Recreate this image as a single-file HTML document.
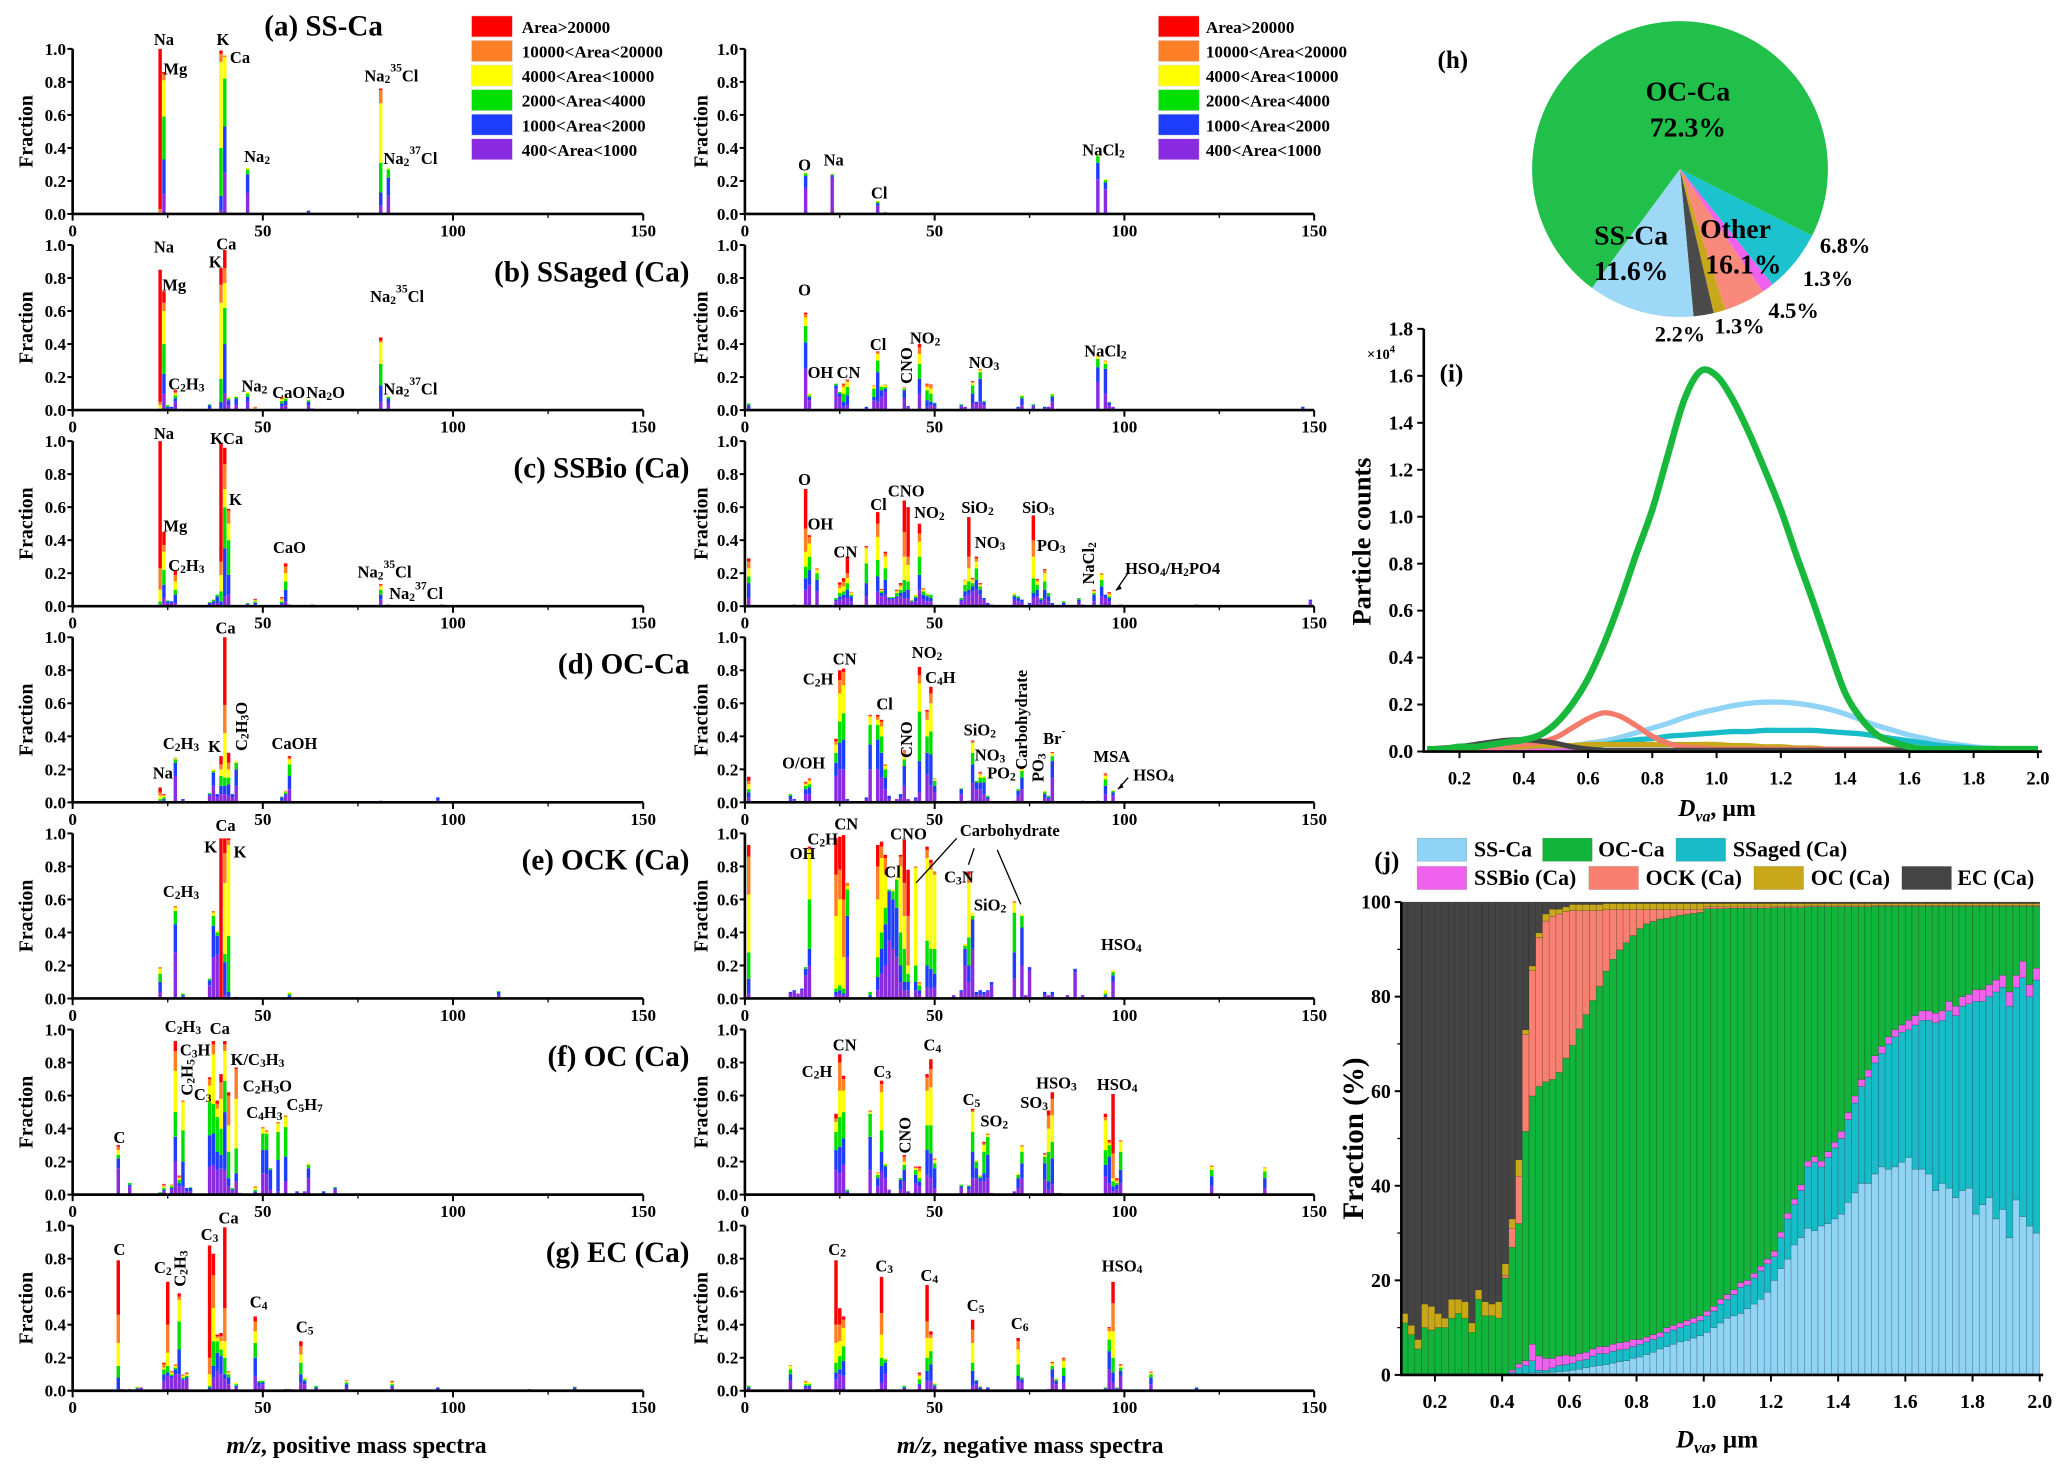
<!DOCTYPE html>
<html><head><meta charset="utf-8"><style>
html,body{margin:0;padding:0;background:#fff;}
svg{display:block;font-family:"Liberation Serif",serif;font-weight:bold;}
</style></head><body>
<svg id="fig" xmlns="http://www.w3.org/2000/svg" width="2067" height="1470" viewBox="0 0 1565 1113" preserveAspectRatio="none"></svg>
<script>
// ---------- Mass spectra data: [m/z, cumulative tops: purple, blue, green, yellow, orange, red] ----------
const specAPos=[[23,0,0,0,0.01,0.03,1.0],[24,0.12,0.33,0.59,0.81,0.85,0.86],[39,0.02,0.11,0.40,0.92,0.97,0.99],[40,0.25,0.53,0.82,0.95,0.96,0.96],[46,0.13,0.24,0.27,0.28],[56,0.005],[62,0.01,0.02],[81,0.05,0.13,0.31,0.67,0.75,0.76],[83,0.11,0.22,0.27,0.28]];
const specANeg=[[16,0.16,0.23,0.245,0.25],[23,0.22,0.235,0.24,0.245],[35,0.05,0.065,0.075,0.08],[37,0.01],[93,0.21,0.31,0.35,0.36],[95,0.15,0.19,0.205,0.21]];
const specBPos=[[23,0,0,0.01,0.03,0.05,0.85],[24,0.1,0.22,0.4,0.6,0.65,0.72],[25,0.01,0.02,0.03],[26,0.01,0.02],[27,0.05,0.07,0.09,0.1,0.11,0.12],[36,0.01,0.03,0.035],[39,0.01,0.05,0.19,0.65,0.76,0.86],[40,0.1,0.4,0.62,0.77,0.86,0.97],[41,0.03,0.06,0.07,0.08],[43,0.03,0.07,0.08,0.085],[46,0.05,0.08,0.1,0.11],[48,0,0,0,0.01,0.02],[55,0.02,0.04,0.055,0.065,0.07,0.075],[56,0.03,0.055,0.07,0.075,0.08],[62,0.03,0.05,0.06,0.065],[63,0.01],[81,0.05,0.15,0.28,0.41,0.42,0.44],[83,0.04,0.07,0.08,0.085]];
const specBNeg=[[1,0.01,0.03,0.04],[16,0.25,0.41,0.51,0.56,0.58,0.59],[17,0.06,0.08,0.09,0.1],[24,0.13,0.15,0.16],[25,0.08,0.1,0.11],[26,0.02,0.05,0.1,0.14,0.155,0.16],[27,0.03,0.09,0.14,0.17,0.18,0.185],[32,0.01,0.02],[34,0.06,0.08,0.13,0.145,0.15],[35,0.05,0.23,0.3,0.34,0.35,0.355],[36,0.08,0.12,0.14,0.15],[37,0.11,0.13,0.14,0.15,0.155],[42,0.07,0.12,0.13,0.135,0.14],[43,0.02,0.025],[46,0.1,0.19,0.28,0.34,0.38,0.4],[48,0.02,0.06,0.12,0.14,0.155,0.16],[49,0.03,0.05,0.1,0.13,0.15,0.155],[50,0.02,0.04,0.045],[57,0.02,0.03,0.035],[58,0.02],[60,0.04,0.1,0.15,0.165,0.17,0.175],[61,0.04,0.05],[62,0.05,0.19,0.23,0.24,0.25],[63,0.03,0.05,0.055],[72,0.01,0.02],[73,0.03,0.07,0.085,0.09],[76,0.02,0.03,0.035],[79,0.01,0.02],[80,0.02],[81,0.05,0.08,0.095,0.1],[93,0.17,0.26,0.31,0.33,0.335],[95,0.1,0.25,0.28,0.295,0.3],[96,0.03,0.045,0.05],[97,0.02],[147,0.01,0.02]];
const specCPos=[[23,0,0.01,0.03,0.1,0.23,1.0],[24,0.05,0.13,0.22,0.33,0.37,0.45],[25,0.02,0.03,0.035],[26,0.02,0.03],[27,0.02,0.07,0.1,0.15,0.19,0.22],[36,0.01,0.02,0.025],[37,0.02,0.03,0.04],[38,0.02,0.06,0.07],[39,0,0.03,0.09,0.19,0.27,0.99],[40,0.06,0.35,0.6,0.71,0.86,0.96],[41,0.07,0.19,0.4,0.5,0.58,0.59],[46,0.01,0.015,0.02],[48,0.01,0.02,0.03,0.035,0.04,0.045],[55,0.01,0.02,0.03,0.04,0.05,0.055],[56,0.03,0.1,0.15,0.2,0.24,0.26],[57,0.01],[63,0.01],[81,0.04,0.07,0.1,0.12,0.13,0.135],[83,0.01],[97,0.01]];
const specCNeg=[[1,0.05,0.14,0.18,0.23,0.27,0.29],[13,0.01],[16,0.1,0.17,0.24,0.33,0.47,0.71],[17,0.13,0.22,0.3,0.38,0.42,0.43],[19,0.09,0.16,0.2,0.22,0.23],[24,0.03,0.04,0.05],[25,0.04,0.06,0.08,0.11,0.13,0.145],[26,0.05,0.07,0.09,0.12,0.15,0.17],[27,0.05,0.1,0.14,0.17,0.2,0.3],[28,0.03,0.06,0.07,0.08,0.085],[32,0.06,0.14,0.26,0.35,0.36,0.365],[35,0.09,0.18,0.28,0.42,0.5,0.57],[36,0.06,0.08,0.09,0.1,0.1,0.105],[37,0.07,0.16,0.23,0.3,0.32,0.33],[38,0.04,0.05,0.055],[39,0.04,0.05,0.055],[40,0.05,0.06,0.08,0.09,0.095,0.1],[41,0.06,0.08,0.1,0.12,0.13,0.14],[42,0.05,0.09,0.16,0.3,0.45,0.64],[43,0.05,0.1,0.15,0.25,0.3,0.6],[44,0.02,0.03,0.035,0.04],[45,0.03,0.05,0.06,0.07],[46,0.1,0.19,0.3,0.39,0.44,0.5],[47,0.04,0.07,0.09,0.1,0.11],[48,0.03,0.06,0.07,0.08],[49,0.03,0.05,0.07],[57,0.03,0.04,0.05],[58,0.06,0.09,0.13,0.155,0.16],[59,0.07,0.1,0.15,0.23,0.3,0.54],[60,0.09,0.12,0.14,0.16,0.165,0.17],[61,0.1,0.16,0.23,0.27,0.29,0.3],[62,0.07,0.1,0.12,0.13,0.135,0.14],[63,0.04,0.05],[64,0.01,0.02],[65,0.01],[71,0.04,0.06,0.07,0.08],[72,0.03,0.05,0.06],[73,0.02,0.04],[75,0.01,0.02],[76,0.05,0.08,0.17,0.3,0.4,0.55],[77,0.06,0.1,0.13,0.15,0.16,0.165],[78,0.02,0.04,0.05],[79,0.05,0.1,0.15,0.2,0.22,0.225],[80,0.03,0.06,0.08],[81,0.01,0.02],[84,0.01,0.02,0.03],[88,0.02,0.04,0.05],[89,0.01],[92,0.03,0.07,0.08,0.09,0.095,0.1],[94,0.06,0.12,0.16,0.19,0.2],[95,0.05,0.07],[96,0.03,0.05,0.06,0.07,0.08,0.085],[99,0.01],[119,0.01],[149,0.03,0.04]];
const specDPos=[[23,0,0.01,0.02,0.04,0.06,0.09],[24,0.01,0.02,0.03,0.04,0.045,0.05],[27,0.16,0.24,0.26,0.265,0.27],[29,0.01,0.02],[36,0.04,0.05,0.055],[37,0.1,0.18,0.19,0.2],[38,0.03,0.05],[39,0.05,0.1,0.16,0.2,0.23,0.28],[40,0.05,0.1,0.15,0.42,0.59,1.0],[41,0.04,0.11,0.15,0.2,0.24,0.3],[42,0.03,0.05],[43,0.1,0.2,0.24,0.25],[55,0.01,0.03,0.035],[56,0.04,0.05,0.06,0.065,0.07],[57,0.08,0.16,0.23,0.26,0.27,0.28],[81,0.01],[96,0.01,0.03]];
const specDNeg=[[1,0.03,0.06,0.08,0.11,0.13,0.155],[12,0.02,0.04,0.05],[13,0.01,0.02],[16,0.05,0.08,0.1,0.11,0.12,0.125],[17,0.05,0.09,0.11,0.13,0.14,0.145],[24,0.16,0.24,0.3,0.35,0.37,0.385],[25,0.2,0.36,0.49,0.66,0.74,0.8],[26,0.2,0.38,0.54,0.71,0.79,0.81],[27,0.01,0.02],[32,0.02,0.03],[33,0.2,0.35,0.47,0.52,0.525,0.53],[35,0.2,0.38,0.47,0.5,0.52,0.53],[36,0.15,0.3,0.4,0.46,0.49,0.5],[37,0.08,0.15,0.2,0.22,0.23],[38,0.02,0.04],[40,0.02],[41,0.03,0.05],[42,0.1,0.22,0.26,0.29,0.31,0.315],[43,0.02],[45,0.02,0.03],[46,0.06,0.25,0.55,0.72,0.77,0.82],[48,0.17,0.3,0.4,0.5,0.55,0.56],[49,0.1,0.29,0.43,0.6,0.66,0.7],[50,0.06,0.1,0.13,0.14,0.145],[57,0.05,0.08,0.085],[59,0.01],[60,0.12,0.23,0.3,0.36,0.37,0.375],[61,0.08,0.12,0.13],[62,0.08,0.12,0.15,0.17,0.18,0.185],[63,0.05,0.12,0.15,0.16],[64,0.02,0.03,0.04],[71,0.01],[72,0.04,0.07,0.08],[73,0.08,0.15,0.19,0.2,0.21],[79,0.03,0.05,0.065,0.07],[80,0.02,0.03,0.04],[81,0.15,0.25,0.28,0.3,0.3,0.305],[89,0.01],[93,0.01],[95,0.05,0.1,0.14,0.16,0.17,0.175],[97,0.04,0.06,0.07,0.075]];
const specEPos=[[23,0.04,0.1,0.15,0.18,0.19],[27,0.28,0.45,0.53,0.55,0.56],[29,0.01,0.02,0.03],[36,0.08,0.11,0.12],[37,0.25,0.44,0.5,0.52,0.53],[38,0.27,0.38,0.4,0.41],[39,0,0,0,0,0,0.97],[40,0.02,0.22,0.27,0.7,0.88,0.97],[41,0.01,0.04,0.38,0.93,0.96,0.97],[43,0.01],[57,0.01,0.02,0.03,0.04],[112,0.02,0.04,0.045]];
const specENeg=[[1,0.03,0.12,0.28,0.63,0.86,0.93],[12,0.03,0.04],[13,0.04,0.05],[14,0.03],[15,0.05,0.06],[16,0.14,0.18,0.19],[17,0.2,0.3,0.6,0.9,0.91,0.92],[24,0.02,0.04,0.06,0.5,0.75,0.97],[25,0.03,0.05,0.08,0.6,0.78,0.98],[26,0.02,0.03,0.06,0.25,0.6,0.99],[27,0.25,0.5,0.66,0.68,0.7],[33,0.01,0.02,0.04],[35,0.05,0.13,0.25,0.6,0.8,0.93],[36,0.15,0.3,0.4,0.85,0.92,0.95],[37,0.2,0.45,0.55,0.75,0.85,0.87],[38,0.35,0.65,0.66],[39,0.3,0.6,0.65,0.66],[40,0.25,0.55,0.72,0.73],[41,0.1,0.2,0.4,0.8,0.86,0.87],[42,0.05,0.1,0.3,0.5,0.7,0.96],[43,0.05,0.1,0.15,0.2,0.5,0.78],[45,0.05,0.1,0.2,0.79,0.8],[46,0.03,0.05,0.08,0.09,0.1],[48,0.07,0.2,0.35,0.85,0.9,0.92],[49,0.06,0.18,0.3,0.78,0.82,0.84],[50,0.07,0.15,0.3,0.75,0.77],[55,0.02],[57,0.04,0.05],[58,0.2,0.3,0.32,0.33],[59,0.1,0.2,0.37,0.7,0.75,0.77],[60,0.3,0.48,0.5,0.52],[61,0.02,0.04],[62,0.03,0.05],[63,0.02,0.04],[64,0.04,0.05],[65,0.08,0.1],[71,0.12,0.28,0.52,0.58,0.59],[73,0.2,0.43,0.5,0.51],[74,0.02],[75,0.17,0.19],[79,0.02,0.04],[80,0.02],[81,0.02,0.04],[85,0.02],[87,0.16,0.18],[89,0.02],[95,0.01,0.02,0.03,0.05],[97,0.1,0.14,0.16,0.17]];
const specFPos=[[12,0.16,0.22,0.24,0.27,0.29,0.3],[15,0.05,0.06,0.07],[23,0.005,0.01,0.015],[24,0.02,0.03,0.04,0.05,0.06,0.065],[26,0.03,0.04,0.05,0.055,0.06],[27,0.2,0.35,0.5,0.75,0.87,0.93],[28,0.05,0.07,0.09,0.1,0.11,0.115],[29,0.05,0.2,0.39,0.56,0.57],[30,0.02,0.04],[31,0.02,0.04,0.045],[36,0.17,0.36,0.56,0.66,0.7,0.71],[37,0.18,0.37,0.55,0.85,0.91,0.93],[38,0.15,0.26,0.47,0.52,0.55,0.57],[39,0.16,0.24,0.4,0.58,0.68,0.73],[40,0.15,0.5,0.69,0.87,0.91,0.93],[41,0.05,0.1,0.26,0.42,0.6,0.62],[42,0.02,0.03,0.04],[43,0.08,0.13,0.28,0.58,0.76,0.77],[44,0.01],[48,0.01,0.02,0.03,0.04,0.05],[49,0.01],[50,0.13,0.27,0.37,0.4,0.41],[51,0.12,0.27,0.37,0.38,0.39],[52,0.03,0.15,0.16],[54,0.02,0.21,0.38,0.43,0.44],[56,0.08,0.23,0.41,0.47,0.48],[59,0.01,0.02],[60,0.01],[61,0.02],[62,0.1,0.16,0.18,0.19],[66,0.01,0.02],[69,0.03,0.04,0.045],[77,0.005]];
const specFNeg=[[24,0.15,0.27,0.38,0.44,0.46,0.49],[25,0.13,0.29,0.47,0.63,0.8,0.85],[26,0.18,0.34,0.5,0.63,0.7,0.72],[27,0.01,0.02,0.03],[33,0.15,0.35,0.49,0.5,0.51],[35,0.05,0.1,0.12,0.13,0.135],[36,0.14,0.26,0.39,0.62,0.67,0.69],[37,0.1,0.17,0.18,0.19],[38,0.03],[41,0.03,0.09,0.1],[42,0.08,0.15,0.18,0.2,0.23,0.24],[43,0.02],[45,0.07,0.12,0.15,0.16,0.165,0.17],[46,0.05,0.08,0.1,0.14,0.16,0.17],[48,0.12,0.27,0.42,0.63,0.71,0.73],[49,0.1,0.25,0.42,0.65,0.76,0.82],[50,0.04,0.16,0.19,0.21,0.22],[57,0.04,0.05,0.06],[59,0.03,0.05,0.055],[60,0.1,0.26,0.38,0.5,0.51,0.52],[61,0.1,0.16,0.2,0.21],[62,0.08,0.1,0.11,0.12],[63,0.08,0.13,0.26,0.3,0.31,0.32],[64,0.1,0.24,0.35,0.36,0.37],[65,0.01],[71,0.02],[72,0.04,0.1,0.12,0.13],[73,0.1,0.19,0.26,0.29,0.3],[79,0.09,0.19,0.23,0.24,0.245,0.25],[80,0.03,0.08,0.26,0.4,0.48,0.51],[81,0.06,0.22,0.32,0.48,0.58,0.62],[82,0.01],[83,0.01],[95,0.11,0.18,0.27,0.45,0.47,0.49],[96,0.07,0.23,0.3,0.31,0.32,0.33],[97,0.02,0.05,0.08,0.1,0.25,0.61],[98,0.03,0.06,0.07,0.08,0.09,0.1],[99,0.07,0.15,0.26,0.32,0.33],[123,0.05,0.11,0.15,0.17,0.17,0.175],[137,0.04,0.1,0.14,0.16,0.165]];
const specGPos=[[12,0.01,0.08,0.15,0.29,0.46,0.79],[13,0.01],[15,0.01],[17,0.01,0.015,0.02,0.025],[18,0.02],[24,0.06,0.1,0.13,0.14,0.16,0.17],[25,0.09,0.11,0.15,0.23,0.4,0.66],[26,0.08,0.09,0.1,0.11,0.12],[27,0.1,0.13,0.14,0.15,0.16],[28,0.1,0.25,0.42,0.55,0.57,0.59],[29,0.06,0.07,0.08,0.09,0.1],[30,0.07,0.08,0.09,0.1,0.105,0.11],[36,0.01,0.02,0.03,0.1,0.2,0.88],[37,0.08,0.15,0.3,0.5,0.7,0.83],[38,0.12,0.23,0.3,0.32,0.33,0.34],[39,0.1,0.21,0.25,0.3,0.33,0.35],[40,0.07,0.1,0.2,0.3,0.5,0.99],[41,0.04,0.08,0.1,0.11,0.12],[43,0.02,0.03,0.04,0.05],[48,0.09,0.2,0.29,0.36,0.42,0.45],[49,0.03,0.05,0.06],[50,0.04,0.05,0.06],[56,0.01],[57,0.01],[60,0.05,0.1,0.17,0.22,0.27,0.3],[61,0.04,0.06,0.07,0.08],[64,0.01,0.02,0.03],[72,0.02,0.04,0.05,0.06,0.065],[84,0.02,0.03,0.04,0.05,0.055,0.06],[96,0.01,0.02],[108,0.005],[120,0.01],[132,0.01,0.02,0.025]];
const specGNeg=[[1,0.01,0.02,0.03],[12,0.06,0.1,0.13,0.15,0.155],[16,0.02,0.03,0.04,0.05,0.06],[17,0.02,0.03,0.04,0.05],[24,0.07,0.11,0.17,0.29,0.4,0.79],[25,0.1,0.13,0.21,0.3,0.4,0.5],[26,0.09,0.18,0.27,0.38,0.43,0.45],[35,0.01],[36,0.05,0.15,0.2,0.34,0.47,0.69],[37,0.1,0.17,0.19,0.195],[42,0.01,0.02,0.03],[46,0.03,0.04,0.07,0.09,0.1,0.11],[48,0.06,0.12,0.2,0.32,0.42,0.64],[49,0.06,0.16,0.24,0.32,0.34,0.36],[50,0.02,0.03,0.04,0.05],[60,0.03,0.12,0.17,0.29,0.37,0.43],[61,0.04,0.06,0.065],[62,0.01,0.02,0.025],[64,0.01,0.02],[72,0.06,0.09,0.16,0.25,0.3,0.32],[73,0.05,0.07,0.08],[80,0.01],[81,0.08,0.13,0.15,0.165,0.17,0.175],[82,0.04,0.06,0.07,0.075],[84,0.05,0.09,0.14,0.18,0.195,0.2],[95,0.01,0.015,0.02],[96,0.13,0.24,0.31,0.36,0.38,0.385],[97,0.05,0.11,0.2,0.36,0.53,0.66],[98,0.01,0.015,0.02],[99,0.09,0.12,0.14,0.15,0.155,0.16],[107,0.04,0.08,0.1,0.11,0.11,0.115],[119,0.01,0.02]];

// Peak labels: [text, m/z, fraction(center), rotated?]  (_n = subscript, ^n = superscript)
const labAPos=[["Na",24,1.06],["Mg",27,0.88],["K",39.5,1.06],["Ca",44,0.95],["Na_2",48.5,0.35],["Na_2^35Cl",83.8,0.84],["Na_2^37Cl",88.8,0.34]];
const labANeg=[["O",15.7,0.3],["Na",23.4,0.33],["Cl",35.4,0.13],["NaCl_2",94.5,0.39]];
const labBPos=[["Na",24,0.99],["Mg",26.7,0.76],["K",37.5,0.9],["Ca",40.4,1.01],["C_2H_3",29.9,0.16],["Na_2",47.8,0.15],["CaO",56.8,0.11],["Na_2O",66.5,0.11],["Na_2^35Cl",85.3,0.69],["Na_2^37Cl",88.8,0.13]];
const labBNeg=[["O",15.7,0.73],["OH",19.9,0.23],["CN",27.3,0.23],["Cl",35.1,0.4],["CNO",42.5,0.27,1],["NO_2",47.5,0.44],["NO_3",63,0.29],["NaCl_2",95,0.36]];
const labCPos=[["Na",24,1.05],["KCa",40.5,1.02],["K",42.8,0.65],["Mg",27,0.49],["C_2H_3",29.9,0.25],["CaO",57,0.36],["Na_2^35Cl",82,0.21],["Na_2^37Cl",90.3,0.08]];
const labCNeg=[["O",15.7,0.77],["OH",19.9,0.5],["CN",26.5,0.33],["Cl",35.2,0.62],["CNO",42.5,0.7],["NO_2",48.6,0.57],["SiO_2",61.3,0.6],["NO_3",64.6,0.39],["SiO_3",77.3,0.6],["PO_3",80.7,0.37],["NaCl_2",90.4,0.26,1],["HSO_4/H_2PO4",112.7,0.23]];
const labDPos=[["Ca",40.2,1.06],["C_2H_3",28.5,0.36],["Na",23.7,0.18],["K",37.3,0.34],["C_2H_3O",44.2,0.46,1],["CaOH",58.3,0.36]];
const labDNeg=[["CN",26.3,0.87],["C_2H",19.3,0.75],["Cl",36.8,0.6],["CNO",42.5,0.38,1],["NO_2",48,0.91],["C_4H",51.5,0.76],["SiO_2",61.9,0.44],["NO_3",64.6,0.29],["PO_2",67.6,0.18],["Carbohydrate",72.7,0.5,1],["PO_3",77.1,0.21,1],["Br^-",81.5,0.39],["MSA",96.7,0.28],["HSO_4",107.7,0.17],["O/OH",15.5,0.24]];
const labEPos=[["Ca",40.2,1.05],["K",36.3,0.92],["K",44,0.89],["C_2H_3",28.5,0.65]];
const labENeg=[["OH",15.2,0.88],["C_2H",20.5,0.97],["CN",26.7,1.06],["CNO",43.1,1.0],["Cl",38.9,0.77],["C_3N",56.4,0.74],["SiO_2",64.6,0.57],["Carbohydrate",69.8,1.02],["HSO_4",99.2,0.33]];
const labFPos=[["C",12.3,0.35],["C_2H_3",29,1.02],["C_3H",32.2,0.88],["C_2H_5",29.9,0.71,1],["C_3",34.2,0.61],["Ca",38.7,1.01],["K/C_3H_3",48.6,0.82],["C_2H_3O",51.2,0.66],["C_4H_3",50.4,0.5],["C_5H_7",61,0.55]];
const labFNeg=[["C_2H",19,0.75],["CN",26.3,0.91],["C_3",36.2,0.75],["CNO",42,0.36,1],["C_4",49.4,0.91],["C_5",59.7,0.58],["SO_2",65.7,0.45],["SO_3",76.2,0.56],["HSO_3",82.1,0.68],["HSO_4",98.1,0.67]];
const labGPos=[["C",12.3,0.86],["C_2",23.7,0.75],["C_2H_3",28.1,0.74,1],["C_3",36,0.95],["Ca",41,1.05],["C_4",48.9,0.54],["C_5",61,0.39]];
const labGNeg=[["C_2",24.3,0.86],["C_3",36.7,0.76],["C_4",48.6,0.7],["C_5",60.8,0.52],["C_6",72.4,0.41],["HSO_4",99.4,0.76]];
const panelTitles=["(a) SS-Ca","(b) SSaged (Ca)","(c) SSBio (Ca)","(d) OC-Ca","(e) OCK (Ca)","(f) OC (Ca)","(g) EC (Ca)"];
const legendLabels=["Area>20000","10000<Area<20000","4000<Area<10000","2000<Area<4000","1000<Area<2000","400<Area<1000"];
const xTicks=[0,50,100,150];
const yTicks=[0,0.2,0.4,0.6,0.8,1.0];

// ---------- Pie (h) ----------
const pieNames=["SSaged (Ca)","SSBio (Ca)","OCK (Ca)","OC (Ca)","EC (Ca)","SS-Ca","OC-Ca"];
const pieValues=[6.8,1.3,4.5,1.3,2.2,11.6,72.3];

// ---------- Size distribution (i), x step 0.05 um ----------
const distX=[0.10,0.15,0.20,0.25,0.30,0.35,0.40,0.45,0.50,0.55,0.60,0.65,0.70,0.75,0.80,0.85,0.90,0.95,1.00,1.05,1.10,1.15,1.20,1.25,1.30,1.35,1.40,1.45,1.50,1.55,1.60,1.65,1.70,1.75,1.80,1.85,1.90,1.95,2.00];
const distOCCa=[0.01,0.01,0.02,0.02,0.03,0.04,0.05,0.07,0.12,0.20,0.31,0.46,0.64,0.84,1.03,1.27,1.50,1.62,1.60,1.50,1.36,1.20,1.03,0.83,0.64,0.44,0.25,0.14,0.07,0.04,0.02,0.01,0.01,0.01,0.01,0.01,0.01,0.01,0.01];
const distSSCa=[0.01,0.01,0.01,0.01,0.01,0.01,0.01,0.015,0.02,0.025,0.035,0.045,0.06,0.08,0.10,0.12,0.145,0.165,0.18,0.195,0.205,0.21,0.21,0.205,0.195,0.18,0.16,0.135,0.11,0.09,0.07,0.055,0.04,0.03,0.02,0.015,0.01,0.01,0.01];
const distSSaged=[0.01,0.01,0.01,0.01,0.01,0.01,0.01,0.01,0.015,0.02,0.025,0.03,0.04,0.05,0.055,0.065,0.07,0.075,0.08,0.085,0.085,0.09,0.09,0.09,0.09,0.085,0.08,0.075,0.065,0.055,0.045,0.035,0.025,0.02,0.015,0.01,0.01,0.01,0.01];
const distOCK=[0.01,0.01,0.01,0.015,0.02,0.025,0.03,0.04,0.06,0.10,0.14,0.165,0.15,0.11,0.065,0.035,0.02,0.015,0.01,0.01,0.01,0.01,0.01,0.01,0.01,0.01,0.01,0.01,0.01,0.01,0.01,0.01,0.01,0.01,0.01,0.01,0.01,0.01,0.01];
const distOC=[0.01,0.01,0.01,0.015,0.02,0.02,0.02,0.025,0.025,0.025,0.03,0.03,0.03,0.03,0.03,0.03,0.03,0.03,0.03,0.025,0.025,0.02,0.02,0.015,0.015,0.01,0.01,0.01,0.01,0.01,0.01,0.01,0.01,0.01,0.01,0.01,0.01,0.01,0.01];
const distEC=[0.01,0.015,0.02,0.03,0.04,0.048,0.05,0.045,0.035,0.02,0.01,0.005,0.005,0.005,0.005,0.005,0.005,0.005,0.005,0.005,0.005,0.005,0.005,0.005,0.005,0.005,0.005,0.005,0.005,0.005,0.005,0.005,0.005,0.005,0.005,0.005,0.005,0.005,0.005];
const distSSBio=[0.005,0.005,0.005,0.005,0.005,0.005,0.005,0.005,0.005,0.005,0.005,0.005,0.005,0.005,0.005,0.005,0.005,0.005,0.005,0.005,0.005,0.005,0.005,0.005,0.005,0.005,0.005,0.005,0.005,0.005,0.005,0.005,0.005,0.005,0.005,0.005,0.005,0.005,0.005];
const distTicks=[0.2,0.4,0.6,0.8,1.0,1.2,1.4,1.6,1.8,2.0];
const countTicks=[0,0.2,0.4,0.6,0.8,1.0,1.2,1.4,1.6,1.8];

// ---------- Stacked fractions (j): bins centred at 0.11 + 0.02*i, 95 bins ----------
const fracSSCa=[0,0,0,0,0,0,0,0,0,0,0,0,0,0,0,0,0,0,0,0.5,0.5,0.5,0.6,0.7,0.8,1,1.2,1.5,1.8,2,2.2,2.5,2.8,3,3.5,3.8,4.3,4.8,5.5,6,6.5,7,7.3,7.8,8.3,9,10,11,12,12.5,13,14,15,16,17.5,20,22.5,24.5,27.5,29,31,30.5,31.5,32,33,34,36.5,38.5,40.5,40.5,42.5,44,43.5,44,45,46,43.5,43.5,42.5,39,40.5,39.5,37.5,39,39.5,34,36,37.5,33,35,29,37,33.5,31.5,30];
const fracSSaged=[0,0,0,0,0,0,0,0,0,0,0,0,0,0,0,0,0.5,1.5,2,2.5,0.5,0.5,0.9,1.3,1.4,1.5,1.8,1.8,2.2,2.5,2.3,2.5,2.5,2.5,2.5,2.7,2.7,2.7,2.5,3,3,3,3.2,3.2,3.2,3.5,3.5,4,4,4.5,5.5,5,5.5,6,6,5,6.5,8.5,8.5,10,13,14.5,12.5,14,15,16,17.5,19,20.5,22.5,23.5,24,26.5,27.5,27.5,27,30.5,31.5,32.5,35.5,34.5,37.5,38.5,39,39,45,43,42.5,48,47,49,45,50.5,48.5,53.5];
const fracSSBio=[0,0,0,0,0,0,0,0,0,0,0,0,0,0,0,0,0.5,0.8,1,3.5,3,2.5,2,2,2,1.5,1.5,1.5,1.5,1.5,1.5,1.5,1.5,1.5,1.5,1,1,1,1,1,1,1,1,1,1,1,1,1,1,1,1,1,1,1,1,1.2,1.2,1.2,1.2,1.2,1.2,1.2,1.2,1.2,1.2,1.5,1.5,1.5,1.5,1.5,1.5,1.5,1.5,1.5,1.5,2,2,2,2,2,2,2,2,2,2,2.5,2.5,2.5,2.5,2.5,3,2.5,3.5,2.5,2.5];
const fracOCK=[0,0,0,0,0,0,0,0,0,0,0,0,0,0,0,0.5,4,10,20.5,26.5,31.5,34,34.5,33.5,31,28.5,25,22,19,16,13,10.5,8.5,7,5.5,4,3,2.5,2,1.8,1.5,1.2,1,0.8,0.6,0.4,0.4,0.4,0.3,0.3,0.3,0.3,0.3,0.3,0.3,0.3,0.3,0.3,0.3,0.3,0.2,0.2,0.2,0.2,0.2,0.2,0.2,0.2,0.2,0.2,0.2,0.2,0.2,0.2,0.2,0.2,0.2,0.2,0.2,0.2,0.2,0.2,0.2,0.2,0.2,0.2,0.2,0.2,0.2,0.2,0.2,0.2,0.2,0.2,0.2];
const fracOC=[2,2,2,5,5,3,2,4,3,3.5,2,2,3,2.5,3.5,2.5,2,3.5,1,1,1,1.5,1.5,1,1,1.3,1.3,1.3,1.3,1.3,1.3,1.3,1.3,1.3,1.3,1.3,1.3,1.3,1.3,1.3,1.3,1.3,1.3,1.3,1.3,0.7,0.7,0.7,0.7,0.7,0.7,0.7,0.7,0.7,0.7,0.6,0.6,0.6,0.6,0.6,0.5,0.5,0.5,0.5,0.5,0.5,0.5,0.5,0.5,0.5,0.4,0.4,0.4,0.4,0.4,0.4,0.4,0.4,0.4,0.4,0.4,0.4,0.4,0.4,0.4,0.4,0.4,0.4,0.4,0.4,0.4,0.4,0.4,0.4,0.4];
const fracEC=[87,89.5,92.5,85,85.5,87,88,84,84,84.5,89,82,84.5,85,84.5,76.5,67,54.5,27,13.5,6.5,2.5,1.5,1.5,1,0.5,0.5,0.5,0.5,0.5,0.3,0.3,0.3,0.3,0.3,0.3,0.3,0.3,0.3,0.3,0.3,0.3,0.3,0.3,0.3,0.3,0.3,0.3,0.3,0.3,0.3,0.3,0.3,0.3,0.3,0.3,0.3,0.3,0.3,0.3,0.3,0.3,0.3,0.3,0.3,0.3,0.3,0.3,0.3,0.3,0.3,0.3,0.3,0.3,0.3,0.3,0.3,0.3,0.3,0.3,0.3,0.3,0.3,0.3,0.3,0.3,0.3,0.3,0.3,0.3,0.3,0.3,0.3,0.3,0.3];
const fracTicks=[0,20,40,60,80,100];

const NS="http://www.w3.org/2000/svg";
const svg=document.getElementById('fig');
function mk(tag,attrs,parent){const e=document.createElementNS(NS,tag);for(const k in attrs)e.setAttribute(k,attrs[k]);(parent||svg).appendChild(e);return e;}
function richText(str,x,y,size,parent,opts){
  opts=opts||{};
  const t=mk('text',{x:x,y:y,'font-size':size,'text-anchor':opts.anchor||'middle','dominant-baseline':'central'},parent);
  if(opts.rot)t.setAttribute('transform','rotate(-90 '+x+' '+y+')');
  const toks=str.match(/(_[0-9]+|\^[0-9\-]+|[^_^]+)/g)||[];
  let shift=0;
  toks.forEach(tok=>{
    let txt=tok,target=0,fs=size;
    if(tok[0]==='_'){txt=tok.slice(1);target=size*0.3;fs=size*0.7;}
    else if(tok[0]==='^'){txt=tok.slice(1);target=-size*0.4;fs=size*0.7;}
    const s=mk('tspan',{dy:(target-shift),'font-size':fs},t);
    s.textContent=txt;shift=target;
  });
  return t;
}
const segColors=['#8a2be2','#1f3dff','#00e000','#ffff00','#ff7f27','#ff0000'];
const specData=[[specAPos,specANeg],[specBPos,specBNeg],[specCPos,specCNeg],[specDPos,specDNeg],[specEPos,specENeg],[specFPos,specFNeg],[specGPos,specGNeg]];
const specLabels=[[labAPos,labANeg],[labBPos,labBNeg],[labCPos,labCNeg],[labDPos,labDNeg],[labEPos,labENeg],[labFPos,labFNeg],[labGPos,labGNeg]];
const colX=[[55,487],[564,995]];
const letters='abcdefg';

for(let r=0;r<7;r++){
  const yT=37+148.5*r,yB=162+148.5*r;
  for(let c=0;c<2;c++){
    const x0=colX[c][0],x1=colX[c][1];
    const X=m=>x0+(m/150)*(x1-x0);
    const Y=f=>yB-f*(yB-yT);
    const g=mk('g',{});
    
    
    specData[r][c].forEach(b=>{
      const mz=b[0];const cum=[];let last=0;
      for(let k=0;k<6;k++){const v=(b[k+1]!==undefined)?b[k+1]:last;cum.push(v);last=v;}
      let prev=0;
      for(let k=0;k<6;k++){
        if(cum[k]>prev){
          const rc=mk('rect',{x:X(mz)-1.3,y:Y(cum[k]),width:2.6,height:Y(prev)-Y(cum[k]),fill:segColors[k]},g);
          
          
        }
        prev=Math.max(prev,cum[k]);
      }
    });
    const ax=mk('path',{d:'M'+x0+' '+yT+' V'+yB+' H'+x1,stroke:'#000','stroke-width':2,fill:'none'},g);
    
    
    yTicks.forEach(v=>{
      mk('line',{x1:x0-4,x2:x0,y1:Y(v),y2:Y(v),stroke:'#000','stroke-width':1.5},g);
      const t=mk('text',{x:x0-5,y:Y(v)+4.5,'font-size':13,'text-anchor':'end'},g);
      t.textContent=v.toFixed(1);
      
      
    });
    xTicks.forEach(v=>{
      mk('line',{x1:X(v),x2:X(v),y1:yB,y2:yB+5,stroke:'#000','stroke-width':1.5},g);
      const t=mk('text',{x:X(v),y:yB+17,'font-size':13,'text-anchor':'middle'},g);
      t.textContent=String(v);
      
      
    });
    for(let v=25;v<150;v+=50){mk('line',{x1:X(v),x2:X(v),y1:yB,y2:yB+3,stroke:'#000','stroke-width':1},g);}
    const fx=c?531:20,fy=(yT+yB)/2;
    const ft=mk('text',{x:fx,y:fy,'font-size':15,'text-anchor':'middle','dominant-baseline':'central',transform:'rotate(-90 '+fx+' '+fy+')'},g);
    ft.textContent='Fraction';
    
    
    specLabels[r][c].forEach(L=>{
      const t=richText(L[0],X(L[1]),Y(L[2]),12.5,g,{rot:L[3]});
      
      
    });
  }
  const tt=mk('text',{x:r===0?245:522,y:(r===0?27:213+148.5*(r-1)),'font-size':22,'text-anchor':r===0?'middle':'end'});
  tt.textContent=panelTitles[r];
  
  
}
function dataPt(r,c,m,f){const x0=colX[c][0],x1=colX[c][1];const yT=37+148.5*r,yB=162+148.5*r;return [x0+(m/150)*(x1-x0),yB-f*(yB-yT)];}
[[2,1,100.9,0.2,97.8,0.095],[3,1,101,0.15,98.3,0.08]].forEach(a=>{
  const p=dataPt(a[0],a[1],a[2],a[3]),q=dataPt(a[0],a[1],a[4],a[5]);
  const l=mk('line',{x1:p[0],y1:p[1],x2:q[0],y2:q[1],stroke:'#000','stroke-width':1});
  
  
  mk('path',{d:'M'+q[0]+' '+q[1]+' l2.5 -4.5 l1.8 3.2 z',fill:'#000'});
});
[[55.8,0.97,45.1,0.7],[60.4,0.91,58.9,0.81],[66.5,0.9,72.7,0.57]].forEach(a=>{
  const p=dataPt(4,1,a[0],a[1]),q=dataPt(4,1,a[2],a[3]);
  const l=mk('line',{x1:p[0],y1:p[1],x2:q[0],y2:q[1],stroke:'#000','stroke-width':1});
  
  
});
// legends
[[357,395],[877,913]].forEach((L,li)=>{
  legendLabels.forEach((txt,i)=>{
    const y=12+18.6*i;
    const s=mk('rect',{x:L[0],y:y,width:31,height:16,fill:segColors[5-i],stroke:'#ddd','stroke-width':0.5});
    
    
    const t=mk('text',{x:L[1],y:y+13,'font-size':13});
    t.textContent=txt;
    
    
  });
});
[[270,'positive mass spectra'],[780,'negative mass spectra']].forEach(a=>{
  const t=mk('text',{x:a[0],y:1100,'font-size':18,'text-anchor':'middle'});
  const s1=mk('tspan',{'font-style':'italic'},t);s1.textContent='m/z';
  const s2=mk('tspan',{},t);s2.textContent=', '+a[1];
  
  
});

// ---------- Pie ----------
const pieColors=['#1cc3cf','#f062ee','#f98a7b','#c8a81a','#4a4a4a','#9dd9f7','#20c04a'];
(function(){
  const cx=1272,cy=128,R=112;let a=26.8*Math.PI/180;
  const tot=pieValues.reduce((s,v)=>s+v,0);
  pieValues.forEach((v,i)=>{
    const a2=a+v/tot*2*Math.PI;
    const large=(a2-a)>Math.PI?1:0;
    const d='M'+cx+' '+cy+' L'+(cx+R*Math.cos(a))+' '+(cy+R*Math.sin(a))+' A'+R+' '+R+' 0 '+large+' 1 '+(cx+R*Math.cos(a2))+' '+(cy+R*Math.sin(a2))+' Z';
    const p=mk('path',{d:d,fill:pieColors[i]});
    
    
    a=a2;
  });
})();
[["(h)",1100,46,19],["OC-Ca",1278,69,21],["72.3%",1278,96,21],["SS-Ca",1235,178,21],["11.6%",1235,205,21],["Other",1314,173,21],["16.1%",1320,200,21],["6.8%",1397,186,17],["1.3%",1384,211,17],["4.5%",1358,235,17],["1.3%",1317,247,17],["2.2%",1272,253,17]].forEach(a=>{
  const t=mk('text',{x:a[1],y:a[2],'font-size':a[3],'text-anchor':'middle','dominant-baseline':'central'});
  t.textContent=a[0];
  
  
});

// ---------- Panel i ----------
(function(){
  const X=v=>1080.7+(v-0.1)*243.3, Y=v=>569-v/1.8*320;
  const g=mk('g',{});
  
  
  const series=[[distSSCa,'#8fd3f7',4,'ss-ca'],[distSSaged,'#18bcc8',4,'ssaged'],[distSSBio,'#f062ee',3,'ssbio'],[distOC,'#c8a81a',4,'oc'],[distOCK,'#f47a6c',4,'ock'],[distEC,'#444',4,'ec'],[distOCCa,'#17b83c',5,'oc-ca']];
  series.forEach(s=>{
    const pts=distX.map((x,i)=>[X(x),Y(s[0][i])]);
    let d='M'+pts[0][0]+' '+pts[0][1];
    for(let i=0;i<pts.length-1;i++){
      const p0=pts[Math.max(0,i-1)],p1=pts[i],p2=pts[i+1],p3=pts[Math.min(pts.length-1,i+2)];
      d+=' C'+(p1[0]+(p2[0]-p0[0])/6)+' '+(p1[1]+(p2[1]-p0[1])/6)+' '+(p2[0]-(p3[0]-p1[0])/6)+' '+(p2[1]-(p3[1]-p1[1])/6)+' '+p2[0]+' '+p2[1];
    }
    const p=mk('path',{d:d,fill:'none',stroke:s[1],'stroke-width':s[2],'stroke-linejoin':'round'},g);
    
    
  });
  const ax=mk('path',{d:'M1078 '+Y(1.8)+' V569 H1546',stroke:'#000','stroke-width':2,fill:'none'},g);
  
  
  countTicks.forEach(v=>{
    mk('line',{x1:1073,x2:1078,y1:Y(v),y2:Y(v),stroke:'#000','stroke-width':1.5},g);
    const t=mk('text',{x:1070,y:Y(v)+5,'font-size':15,'text-anchor':'end'},g);
    t.textContent=v.toFixed(1);
    
    
  });
  distTicks.forEach(v=>{
    mk('line',{x1:X(v),x2:X(v),y1:569,y2:574,stroke:'#000','stroke-width':1.5},g);
    const t=mk('text',{x:X(v),y:594,'font-size':14,'text-anchor':'middle'},g);
    t.textContent=v.toFixed(1);
    
    
  });
  const e=mk('text',{x:1035,y:272,'font-size':11},g);e.textContent='×10';
  const es=mk('tspan',{dy:-5,'font-size':8},e);es.textContent='4';
  
  
  const il=mk('text',{x:1090,y:289,'font-size':19},g);il.textContent='(i)';
  
  
  const yt=mk('text',{x:1031,y:410,'font-size':20,'text-anchor':'middle','dominant-baseline':'central',transform:'rotate(-90 1031 410)'},g);
  yt.textContent='Particle counts';
  
  
  const xt=mk('text',{x:1300,y:618,'font-size':18,'text-anchor':'middle'},g);
  const a1=mk('tspan',{'font-style':'italic'},xt);a1.textContent='D';
  const a2=mk('tspan',{'font-style':'italic','font-size':12,dy:4},xt);a2.textContent='va';
  const a3=mk('tspan',{dy:-4},xt);a3.textContent=', µm';
  
  
})();

// ---------- Panel j ----------
(function(){
  const X=v=>1061+(v-0.1)*254.4, Y=p=>1041-p*3.58;
  const g=mk('g',{});
  
  
  const cols=['#8fd3f5','#18bcc8','#f062ee','#12b53c','#f98070','#c8a818','#444444'];
  const names=['ss-ca','ssaged','ssbio','oc-ca','ock','oc','ec'];
  for(let i=0;i<fracSSCa.length;i++){
    const others=fracSSCa[i]+fracSSaged[i]+fracSSBio[i]+fracOCK[i]+fracOC[i]+fracEC[i];
    const vals=[fracSSCa[i],fracSSaged[i],fracSSBio[i],Math.max(0,100-others),fracOCK[i],fracOC[i],fracEC[i]];
    const xl=X(0.10+0.02*i),w=X(0.12+0.02*i)-xl;let acc=0;
    vals.forEach((v,k)=>{
      if(v<=0)return;
      const top=Math.min(100,acc+v);
      const rc=mk('rect',{x:xl,y:Y(top),width:w,height:Y(acc)-Y(top),fill:cols[k],stroke:'rgba(0,0,0,0.35)','stroke-width':0.4},g);
      
      
      acc=top;
    });
  }
  const ax=mk('path',{d:'M1061 '+Y(100)+' V1041 H1547',stroke:'#000','stroke-width':2,fill:'none'},g);
  
  
  fracTicks.forEach(v=>{
    mk('line',{x1:1056,x2:1061,y1:Y(v),y2:Y(v),stroke:'#000','stroke-width':1.5},g);
    const t=mk('text',{x:1053,y:Y(v)+5,'font-size':15,'text-anchor':'end'},g);
    t.textContent=String(v);
    
    
  });
  for(let v=10;v<100;v+=20)mk('line',{x1:1058,x2:1061,y1:Y(v),y2:Y(v),stroke:'#000','stroke-width':1},g);
  distTicks.forEach(v=>{
    mk('line',{x1:X(v),x2:X(v),y1:1041,y2:1046,stroke:'#000','stroke-width':1.5},g);
    const t=mk('text',{x:X(v),y:1066,'font-size':15,'text-anchor':'middle'},g);
    t.textContent=v.toFixed(1);
    
    
  });
  const yt=mk('text',{x:1025,y:862,'font-size':22,'text-anchor':'middle','dominant-baseline':'central',transform:'rotate(-90 1025 862)'},g);
  yt.textContent='Fraction (%)';
  
  
  const xt=mk('text',{x:1300,y:1096,'font-size':19,'text-anchor':'middle'},g);
  const a1=mk('tspan',{'font-style':'italic'},xt);a1.textContent='D';
  const a2=mk('tspan',{'font-style':'italic','font-size':13,dy:4},xt);a2.textContent='va';
  const a3=mk('tspan',{dy:-4},xt);a3.textContent=', µm';
  
  
  const jl=mk('text',{x:1050,y:658,'font-size':19,'text-anchor':'middle'},g);jl.textContent='(j)';
  
  
  const leg=[['SS-Ca',1073,1116,634.6,0],['OC-Ca',1168,1210,634.6,3],['SSaged (Ca)',1269,1312,634.6,1],['SSBio (Ca)',1073,1116,656,2],['OCK (Ca)',1203,1246,656,4],['OC (Ca)',1328,1371,656,5],['EC (Ca)',1440,1482,656,6]];
  leg.forEach(L=>{
    const s=mk('rect',{x:L[1],y:L[3],width:37.5,height:17.5,fill:cols[L[4]],stroke:'rgba(0,0,0,0.2)','stroke-width':0.5},g);
    
    
    const t=mk('text',{x:L[2],y:L[3]+14,'font-size':16.5},g);
    t.textContent=L[0];
    
    
  });
})();
</script>
</body></html>
